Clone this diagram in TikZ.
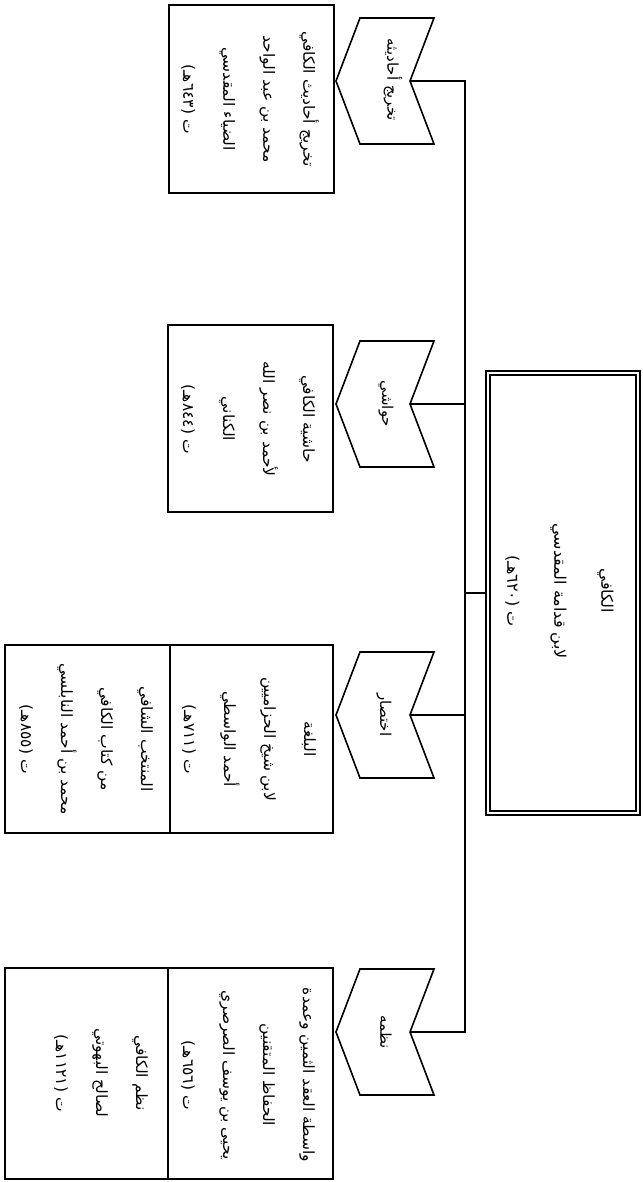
\documentclass[tikz,border=0pt]{standalone}
\usepackage{fontspec}
\newfontfamily\arabicfont[Script=Arabic]{DejaVu Sans}
\TeXXeTstate=1
\newcommand{\AR}[1]{\beginR #1\endR}
\begin{document}
\begin{tikzpicture}[x=1pt,y=-1pt,
  boxframe/.style={draw=black, line width=2.2pt, inner sep=0pt},
  mainframe/.style={draw=black, double=white, line width=1.7pt, double distance=2.5pt, inner sep=0pt},
  txt/.style={rotate=-90, align=center, inner sep=0pt, font=\arabicfont\fontsize{15.5}{40}\selectfont},
  maintxt/.style={rotate=-90, align=center, inner sep=0pt, font=\arabicfont\fontsize{16}{47}\selectfont},
  lbl/.style={rotate=-90, inner sep=0pt, font=\arabicfont\fontsize{15}{18}\selectfont},
  divider/.style={draw=black, line width=1.6pt},
  link/.style={draw=black, line width=1.4pt},
  chevpic/.pic={
    \draw[line width=1.6pt, line join=miter] (-49,0) -- (-25,-63) -- (49,-63) -- (25,0) -- (49,63) -- (-25,63) -- cycle;
    \coordinate (-notch) at (25,0);
  }]
\useasboundingbox (0,0) rectangle (642,1182);
\fill[white] (0,0) rectangle (642,1182);

% main box
\node[mainframe, minimum width=150.1pt, minimum height=440.1pt] (main) at (563,593) {};
\node[maintxt] (maint) at (559.5,591) {\AR{الكافي}\\\AR{لابن قدامة المقدسي}\\\AR{ت (٦٢٠هـ)}};

% trunk
\coordinate (tt) at (465,81);
\coordinate (tb) at (465,1032);

% chevrons
\pic (c1) at (385,81) {chevpic};
\pic (c2) at (385,404) {chevpic};
\pic (c3) at (385,715) {chevpic};
\pic (c4) at (385,1032) {chevpic};
\node[lbl] (l1) at (393,80) {\AR{تخريج أحاديثه}};
\node[lbl] (l2) at (386,404) {\AR{حواشي}};
\node[lbl] (l3) at (384,715) {\AR{اختصار}};
\node[lbl] (l4) at (386,1032) {\AR{نظمه}};

% connectors
\draw[link] (c1-notch) -- (tt) -- (tb) -- (c4-notch);
\draw[link] (c2-notch) -- (c2-notch -| tt);
\draw[link] (c3-notch) -- (c3-notch -| tt);
\draw[link] (main.west) -- (main.west -| tt);

% box 1
\node[boxframe, minimum width=165pt, minimum height=188pt] (b1) at (251.5,99) {};
\node[txt] (t1) at (250,99) {\AR{تخريج أحاديث الكافي}\\\AR{محمد بن عبد الواحد}\\\AR{الضياء المقدسي}\\\AR{ت (٦٤٣هـ)}};

% box 2
\node[boxframe, minimum width=165pt, minimum height=187pt] (b2) at (250.5,418.5) {};
\node[txt] (t2) at (248,419) {\AR{حاشية الكافي}\\\AR{لأحمد بن نصر الله}\\\AR{الكناني}\\\AR{ت (٨٤٤هـ)}};

% box 3
\node[boxframe, minimum width=328pt, minimum height=188pt] (b3) at (169,739) {};
\draw[divider] (b3.north -| 170,0) -- (b3.south -| 170,0);
\node[txt] (t3a) at (249,739) {\AR{البلغة}\\\AR{لابن شيخ الحزاميين}\\\AR{أحمد الواسطي}\\\AR{ت (٧١١هـ)}};
\node[txt] (t3b) at (86,739) {\AR{المنتخب الشافي}\\\AR{من كتاب الكافي}\\\AR{محمد بن أحمد النابلسي}\\\AR{ت (٨٥٥هـ)}};

% box 4
\node[boxframe, minimum width=328pt, minimum height=211pt] (b4) at (169,1073.5) {};
\draw[divider] (b4.north -| 168,0) -- (b4.south -| 168,0);
\node[txt] (t4a) at (248,1075) {\AR{واسطة العقد الثمين وعمدة}\\\AR{الحفاظ المتقنين}\\\AR{يحيى بن يوسف الصرصري}\\\AR{ت (٦٥٦هـ)}};
\node[txt] (t4b) at (101,1073) {\AR{نظم الكافي}\\\AR{لصالح البهوتي}\\\AR{ت (١١٢١هـ)}};
\end{tikzpicture}
\end{document}
